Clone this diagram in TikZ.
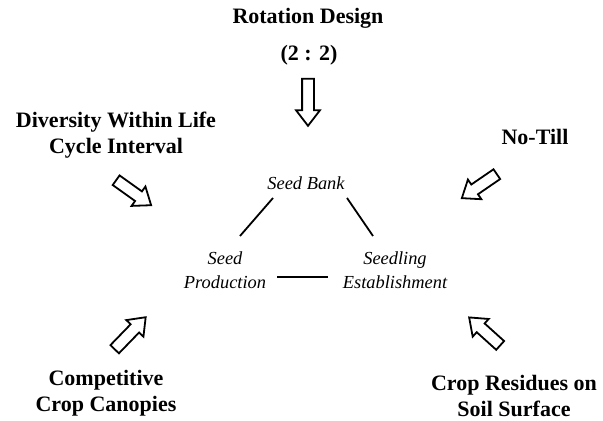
\documentclass[tikz,border=0pt]{standalone}
\usepackage{fontspec}
\setmainfont{Liberation Serif}
\usetikzlibrary{shapes.arrows,calc,positioning}

\tikzset{
  factor/.style={font=\bfseries\fontsize{11}{13}\selectfont, align=center, inner sep=1pt},
  stage/.style={font=\itshape\fontsize{9.2}{12}\selectfont, align=center, inner sep=1pt},
  blockarrow/.style={single arrow, draw, line width=0.9pt, inner sep=2.5pt,
    single arrow head extend=3pt, single arrow tip angle=75,
    midway, sloped, allow upside down}
}

\begin{document}
\begin{tikzpicture}[x=0.5pt,y=0.5pt]
    \useasboundingbox (0,0) rectangle (603,421);

    % factors round the cycle
    \node[factor] (rotation)  at (308,403) {Rotation Design};
    \node[factor] (ratio)     at (309,366) {(2 : 2)};
    \node[factor] (diversity) at (116,286) {Diversity Within Life\\Cycle Interval};
    \node[factor] (notill)    at (535,284) {No-Till};
    \node[factor] (canopies)  at (106,28)  {Competitive\\Crop Canopies};
    \node[factor] (residues)  at (514,25)  {Crop Residues on\\Soil Surface};

    % life cycle
    \node[stage] (bank)       at (306,238) {Seed Bank};
    \node[stage] (production) at (225,151) {Seed\\Production};
    \node[stage] (establish)  at (395,151) {Seedling\\Establishment};

    \draw[line width=0.9pt] ([shift={(-33,-15)}]bank.center) -- ([shift={(15,34)}]production.center);
    \draw[line width=0.9pt] ([shift={(41,-15)}]bank.center) -- ([shift={(-22,34)}]establish.center);
    \draw[line width=0.9pt] ([shift={(52,-7)}]production.center) -- ([shift={(-67,-7)}]establish.center);

    % block arrows
    \coordinate (rs) at (308,346); \coordinate (rt) at (308,299);
    \coordinate (ds) at (113,243); \coordinate (dt) at (148,218);
    \coordinate (ns) at (500,249); \coordinate (nt) at (465,225);
    \coordinate (cs) at (112,69);  \coordinate (ct) at (143,101);
    \coordinate (ss) at (503,73);  \coordinate (st) at (472,101);

    \foreach \a/\b in {rs/rt, ds/dt, ns/nt, cs/ct, ss/st}
      \path let \p1=($(\b)-(\a)$) in (\a) -- (\b)
        node[blockarrow, minimum height={veclen(\x1,\y1)}] {};
\end{tikzpicture}
\end{document}
